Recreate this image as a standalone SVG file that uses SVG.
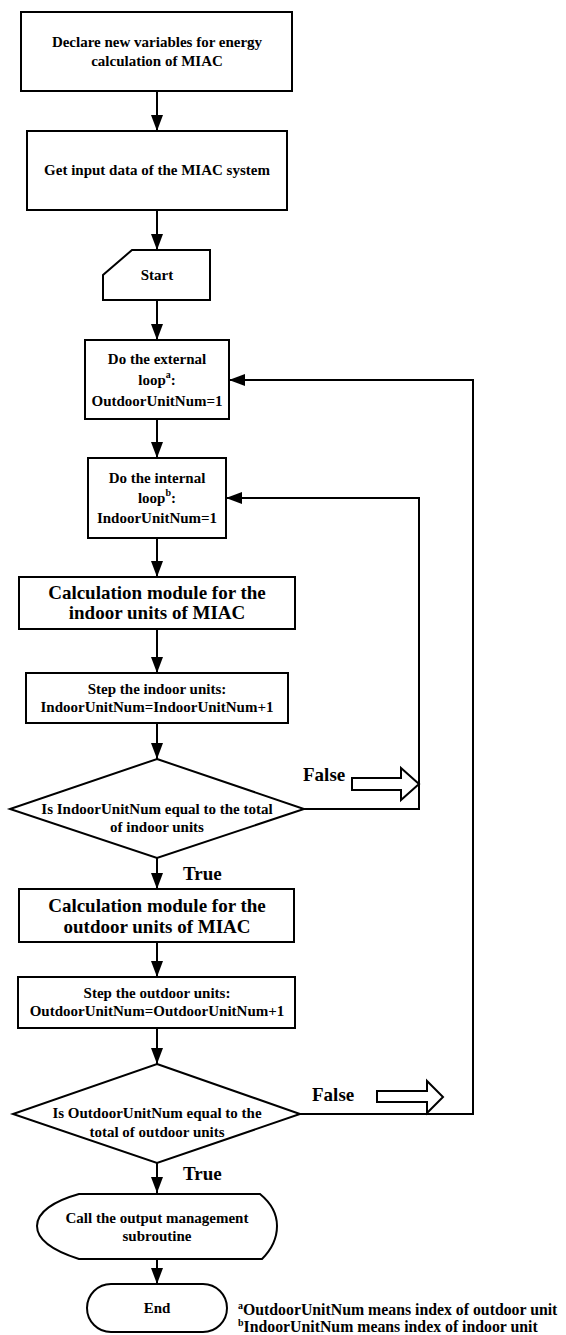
<svg xmlns="http://www.w3.org/2000/svg" width="566" height="1335" viewBox="0 0 566 1335">
<style>
.s{fill:#fff;stroke:#000;stroke-width:2}
.c{fill:none;stroke:#000;stroke-width:2}
.t{font-family:"Liberation Serif","Times New Roman",serif;font-weight:bold;font-size:15px;fill:#000;text-anchor:middle}
.big{font-size:19px}
.lbl{font-family:"Liberation Serif","Times New Roman",serif;font-weight:bold;font-size:19px;fill:#000}
.fn{font-family:"Liberation Serif","Times New Roman",serif;font-weight:bold;font-size:15.8px;fill:#000}
.sup{font-size:10px}
</style>
<defs>
<marker id="ah" markerUnits="userSpaceOnUse" markerWidth="16" markerHeight="12" viewBox="0 0 16 12" refX="16" refY="6" orient="auto">
<path d="M0,0 L16,6 L0,12 Z" fill="#000"/>
</marker>
</defs>
<rect width="566" height="1335" fill="#fff"/>
<g id="connectors">
<path class="c" marker-end="url(#ah)" d="M157,91 V131"/>
<path class="c" marker-end="url(#ah)" d="M157,210 V250"/>
<path class="c" marker-end="url(#ah)" d="M157,300 V340"/>
<path class="c" marker-end="url(#ah)" d="M157,419 V458"/>
<path class="c" marker-end="url(#ah)" d="M157,538 V577"/>
<path class="c" marker-end="url(#ah)" d="M157,629 V673"/>
<path class="c" marker-end="url(#ah)" d="M157,723 V759"/>
<path class="c" marker-end="url(#ah)" d="M157,858 V889"/>
<path class="c" marker-end="url(#ah)" d="M157,942 V977"/>
<path class="c" marker-end="url(#ah)" d="M157,1028 V1064"/>
<path class="c" marker-end="url(#ah)" d="M157,1163 V1193"/>
<path class="c" marker-end="url(#ah)" d="M157,1259 V1284"/>
<path class="c" marker-end="url(#ah)" d="M304,809 H419 V498 H226"/>
<path class="c" marker-end="url(#ah)" d="M300,1114 H473 V380 H229"/>
<polygon class="s" points="352,778 401,778 401,768 419,784 401,800 401,790 352,790"/>
<polygon class="s" points="377,1091 427,1091 427,1081 443,1097 427,1113 427,1102 377,1102"/>
<text class="lbl" x="303" y="781">False</text>
<text class="lbl" x="183" y="880">True</text>
<text class="lbl" x="312" y="1101">False</text>
<text class="lbl" x="183" y="1180">True</text>
</g>
<g id="n1">
<rect class="s" x="21" y="12" width="271" height="79"/>
<text class="t" x="157" y="47">Declare new variables for energy</text>
<text class="t" x="157" y="66">calculation of  MIAC</text>
</g>
<g id="n2">
<rect class="s" x="27" y="131" width="260" height="79"/>
<text class="t" x="157" y="175">Get input data of the MIAC system</text>
</g>
<g id="n3">
<path class="s" d="M132,250 H210 V300 H103 V275 Z"/>
<text class="t" x="157" y="280">Start</text>
</g>
<g id="n4">
<rect class="s" x="85" y="340" width="144" height="79"/>
<text class="t" x="157" y="364">Do the external</text>
<text class="t" x="157" y="385">loop<tspan class="sup" dy="-7">a</tspan><tspan dy="7">:</tspan></text>
<text class="t" x="157" y="406">OutdoorUnitNum=1</text>
</g>
<g id="n5">
<rect class="s" x="88" y="458" width="138" height="80"/>
<text class="t" x="157" y="483">Do the internal</text>
<text class="t" x="157" y="503">loop<tspan class="sup" dy="-7">b</tspan><tspan dy="7">:</tspan></text>
<text class="t" x="157" y="523">IndoorUnitNum=1</text>
</g>
<g id="n6">
<rect class="s" x="19" y="577" width="276" height="52"/>
<text class="t big" x="157" y="599">Calculation module for the</text>
<text class="t big" x="157" y="619">indoor units of MIAC</text>
</g>
<g id="n7">
<rect class="s" x="26" y="673" width="262" height="50"/>
<text class="t" x="157" y="694">Step the indoor units:</text>
<text class="t" x="157" y="712">IndoorUnitNum=IndoorUnitNum+1</text>
</g>
<g id="n8">
<polygon class="s" points="157,759 304,809 157,858 10,809"/>
<text class="t" x="157" y="814">Is IndoorUnitNum equal to the total</text>
<text class="t" x="157" y="832">of indoor units</text>
</g>
<g id="n9">
<rect class="s" x="19" y="889" width="275" height="53"/>
<text class="t big" x="157" y="912">Calculation module for the</text>
<text class="t big" x="157" y="933">outdoor units of MIAC</text>
</g>
<g id="n10">
<rect class="s" x="18" y="977" width="277" height="51"/>
<text class="t" x="157" y="998">Step the outdoor units:</text>
<text class="t" x="157" y="1016">OutdoorUnitNum=OutdoorUnitNum+1</text>
</g>
<g id="n11">
<polygon class="s" points="157,1064 300,1114 157,1163 13,1114"/>
<text class="t" x="157" y="1118">Is OutdoorUnitNum equal  to the</text>
<text class="t" x="157" y="1137">total of outdoor units</text>
</g>
<g id="n12">
<path class="s" d="M79,1194 H260 C271,1203 277,1214 277,1226 C277,1239 271,1250 262,1259 H79 C54,1251 37,1240 37,1226 C37,1212 54,1201 79,1194 Z"/>
<text class="t" x="157" y="1223">Call the output management</text>
<text class="t" x="157" y="1241">subroutine</text>
</g>
<g id="n13">
<rect class="s" x="87" y="1284" width="140" height="48" rx="24" ry="24"/>
<text class="t" x="157" y="1313">End</text>
</g>
<g id="notes">
<text class="fn" x="238" y="1315"><tspan class="sup" dy="-6">a</tspan><tspan dy="6">OutdoorUnitNum means index of outdoor unit</tspan></text>
<text class="fn" x="238" y="1332"><tspan class="sup" dy="-6">b</tspan><tspan dy="6">IndoorUnitNum means index of indoor unit</tspan></text>
</g>
</svg>
